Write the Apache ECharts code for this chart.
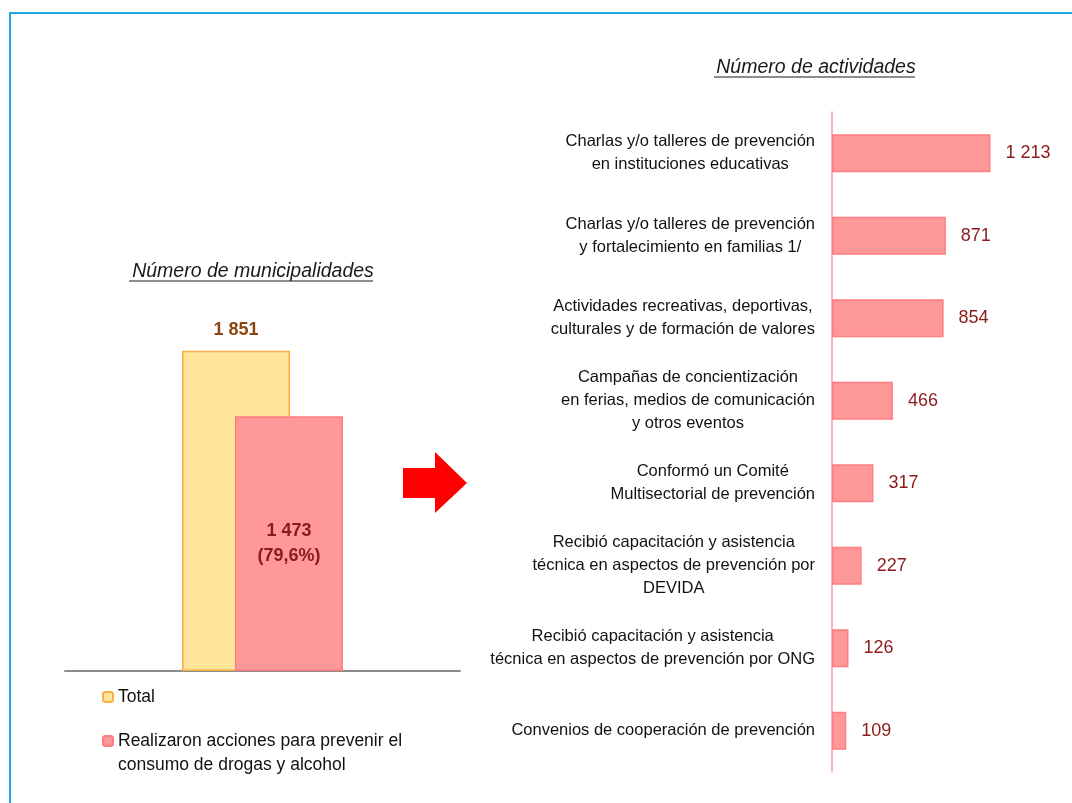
<!DOCTYPE html>
<html>
  <head>
    <meta charset="utf-8" />
    <title>Municipalidades - prevención de drogas</title>
    <script src="https://cdn.jsdelivr.net/npm/echarts@6/dist/echarts.min.js"></script>
    <style>
      html, body { margin: 0; padding: 0; background: #fff; }
    </style>
  </head>
  <body>
    <div id="main" style="width: 1072px; height: 803px"></div>

    <script type="text/javascript">
      // datos
      var munCategories = [""];
      var totalMun = [1851];
      var accionesMun = [1473];
      var accionesPct = ["79,6%"];
      var serieTotal = "Total";
      var serieAcciones = "Realizaron acciones para prevenir el consumo de drogas y alcohol";

      var activityNames = [
        "Charlas y/o talleres de prevención\nen instituciones educativas",
        "Charlas y/o talleres de prevención\ny fortalecimiento en familias 1/",
        "Actividades recreativas, deportivas,\nculturales y de formación de valores",
        "Campañas de concientización\nen ferias, medios de comunicación\ny otros eventos",
        "Conformó un Comité\nMultisectorial de prevención",
        "Recibió capacitación y asistencia\ntécnica en aspectos de prevención por\nDEVIDA",
        "Recibió capacitación y asistencia\ntécnica en aspectos de prevención por ONG",
        "Convenios de cooperación de prevención",
      ];
      var activityValues = [1213, 871, 854, 466, 317, 227, 126, 109];

      var FONT = "'Liberation Sans', Arial, sans-serif";

      function fmt(n) {
        return String(n).replace(/\B(?=(\d{3})+(?!\d))/g, " ");
      }

      var myChart = echarts.init(document.getElementById("main"));

      var legendText = { fontSize: 17.5, color: "#111", fontFamily: FONT, lineHeight: 24 };

      var option = {
        animation: false,
        textStyle: { fontFamily: FONT },
        title: [
          {
            text: "Número de municipalidades",
            left: 248,
            top: 257,
            textAlign: "center",
            textStyle: { fontSize: 19.5, fontStyle: "italic", fontWeight: "normal", color: "#1a1a1a", fontFamily: FONT },
          },
          {
            text: "Número de actividades",
            left: 811,
            top: 53,
            textAlign: "center",
            textStyle: { fontSize: 19.5, fontStyle: "italic", fontWeight: "normal", color: "#1a1a1a", fontFamily: FONT },
          },
        ],
        legend: [
          {
            left: 97,
            top: 680,
            itemWidth: 10,
            itemHeight: 10,
            selectedMode: false,
            textStyle: legendText,
            data: [serieTotal],
          },
          {
            // línea vacía arriba para que el icono quede junto a la primera línea
            left: 97,
            top: 700,
            itemWidth: 10,
            itemHeight: 10,
            selectedMode: false,
            textStyle: legendText,
            data: [serieAcciones],
            formatter: function () {
              return " \nRealizaron acciones para prevenir el\nconsumo de drogas y alcohol";
            },
          },
        ],
        grid: [
          { left: 65, top: 325, width: 395, height: 346 },
          { left: 832, top: 112, width: 196, height: 660 },
        ],
        xAxis: [
          {
            gridIndex: 0,
            type: "category",
            data: munCategories,
            axisLine: { lineStyle: { color: "#8c8c8c", width: 2 } },
            axisTick: { show: false },
            axisLabel: { show: false },
          },
          {
            gridIndex: 1,
            type: "value",
            min: 0,
            max: 1500,
            show: false,
          },
        ],
        yAxis: [
          {
            gridIndex: 0,
            type: "value",
            min: 0,
            max: 2000,
            show: false,
          },
          {
            gridIndex: 1,
            type: "category",
            inverse: true,
            data: activityNames,
            axisLine: { lineStyle: { color: "#ff9a9a", width: 1.5 } },
            axisTick: { show: false },
            axisLabel: {
              margin: 17,
              fontSize: 16.5,
              color: "#111",
              lineHeight: 23,
              formatter: function (v) {
                return v.split("\n").map(function (l) { return "{c|" + l + "}"; }).join("\n");
              },
              rich: {
                c: { align: "center", fontSize: 16.5, lineHeight: 23, color: "#111", fontFamily: FONT },
              },
            },
          },
        ],
        series: [
          {
            name: serieTotal,
            type: "bar",
            xAxisIndex: 0,
            yAxisIndex: 0,
            barWidth: 108,
            barGap: "-51%",
            data: totalMun,
            itemStyle: { color: "#ffe599", borderColor: "#f9b040", borderWidth: 1.5 },
            label: {
              show: true,
              position: "top",
              distance: 12,
              fontSize: 18,
              fontWeight: "bold",
              color: "#8b4513",
              formatter: function (p) { return fmt(p.value); },
            },
          },
          {
            name: serieAcciones,
            type: "bar",
            xAxisIndex: 0,
            yAxisIndex: 0,
            barWidth: 108,
            data: accionesMun,
            itemStyle: { color: "#ff9999", borderColor: "#ff7c80", borderWidth: 1.5 },
            label: {
              show: true,
              position: "inside",
              fontSize: 18,
              fontWeight: "bold",
              color: "#8b1a1a",
              lineHeight: 25,
              formatter: function (p) {
                return fmt(p.value) + "\n(" + accionesPct[p.dataIndex] + ")";
              },
            },
          },
          {
            name: "Número de actividades",
            type: "bar",
            xAxisIndex: 1,
            yAxisIndex: 1,
            barWidth: 38,
            data: activityValues,
            itemStyle: { color: "#ff9999", borderColor: "#ff7c80", borderWidth: 1.5 },
            label: {
              show: true,
              position: "right",
              distance: 15,
              fontSize: 18,
              color: "#8b1a1a",
              formatter: function (p) { return fmt(p.value); },
            },
          },
        ],
        graphic: [
          {
            type: "rect",
            silent: true,
            shape: { x: 10, y: 13, width: 1100, height: 830 },
            style: { fill: "none", stroke: "#1ea7e1", lineWidth: 2 },
          },
          // subrayado de los títulos
          {
            type: "line",
            silent: true,
            shape: { x1: 129, y1: 281, x2: 373, y2: 281 },
            style: { stroke: "#1a1a1a", lineWidth: 1 },
          },
          {
            type: "line",
            silent: true,
            shape: { x1: 714, y1: 77, x2: 915, y2: 77 },
            style: { stroke: "#1a1a1a", lineWidth: 1 },
          },
          // flecha
          {
            type: "polygon",
            silent: true,
            shape: {
              points: [
                [403, 468], [435, 468], [435, 452], [467, 483],
                [435, 513], [435, 498], [403, 498],
              ],
            },
            style: { fill: "#ff0000" },
          },
        ],
      };

      myChart.setOption(option);
    </script>
  </body>
</html>
